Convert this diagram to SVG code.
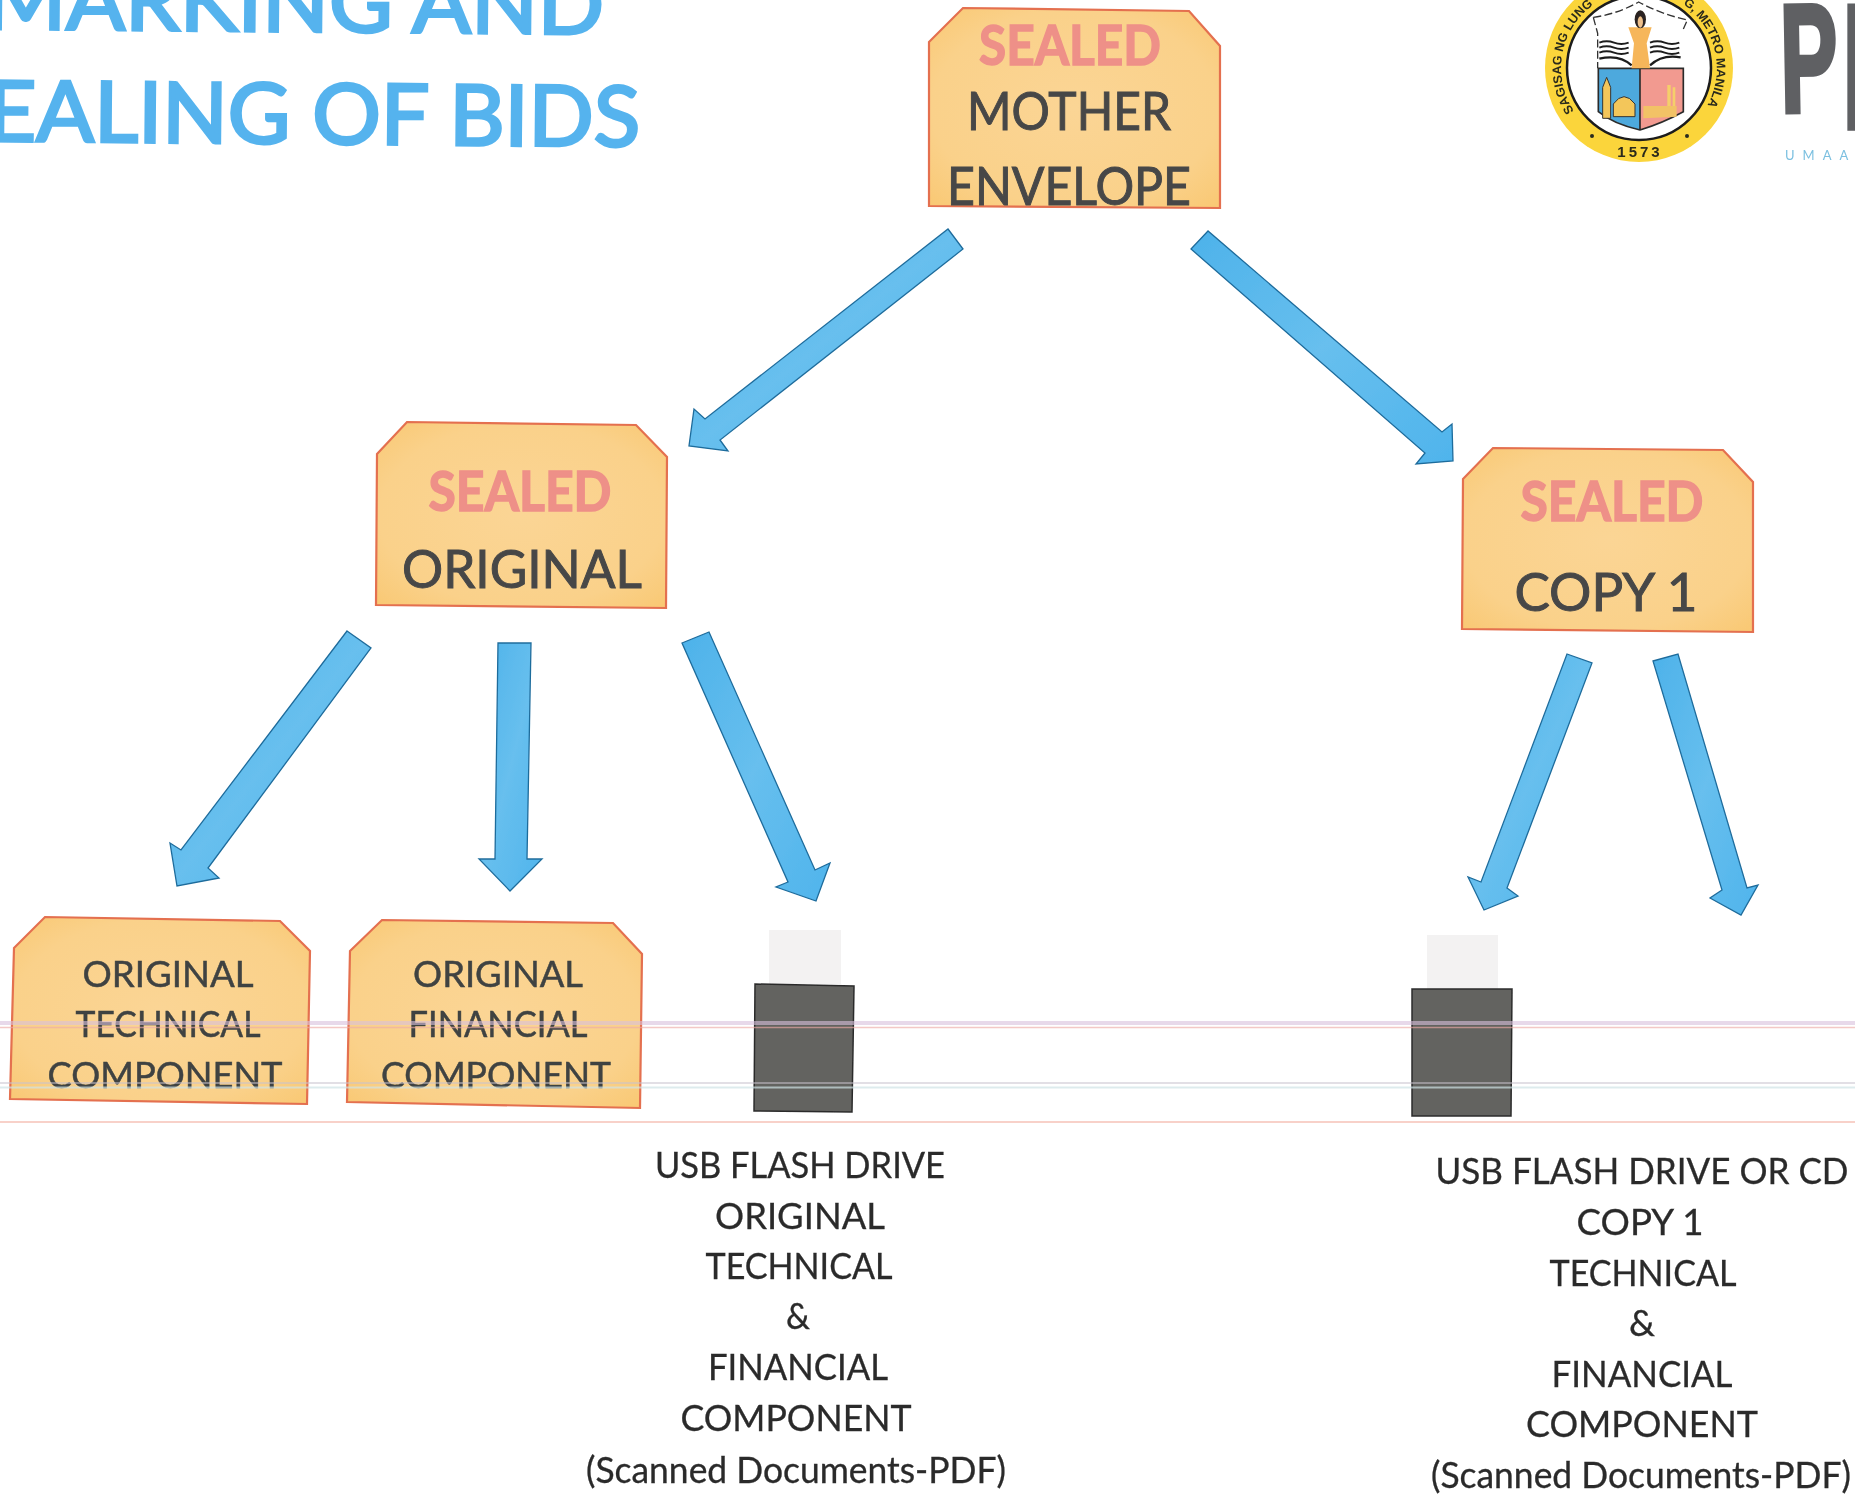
<svg xmlns="http://www.w3.org/2000/svg" width="1855" height="1494" viewBox="0 0 1855 1494">
<defs>
<radialGradient id="env" cx="50%" cy="50%" r="70%"><stop offset="0" stop-color="#fbd595"/><stop offset="0.7" stop-color="#fad18a"/><stop offset="1" stop-color="#f9c873"/></radialGradient>
<linearGradient id="arw" x1="0" y1="0" x2="1" y2="1"><stop offset="0" stop-color="#4db2ea"/><stop offset="0.5" stop-color="#67bfee"/><stop offset="1" stop-color="#4fb4ec"/></linearGradient>
<path id="sealL" d="M1574,111 A78,78 0 0 1 1596,3"/>
<path id="sealR" d="M1683,4 A78,78 0 0 1 1704,111"/>
<filter id="soft" x="0" y="0" width="100%" height="100%" filterUnits="userSpaceOnUse"><feGaussianBlur stdDeviation="0.6"/></filter>
</defs>
<style>
text{font-family:"Lato","Liberation Sans",sans-serif;text-anchor:middle}
.title{fill:#55b3ee;stroke:#55b3ee;stroke-width:3;font-size:84px;font-weight:400;text-anchor:start}
.env{fill:url(#env);stroke:#e4704f;stroke-width:2.2}
.arr{fill:url(#arw);stroke:#1f6c9c;stroke-width:1.3;stroke-linejoin:miter}
.s{fill:#ee9088;stroke:#ee9088;stroke-width:1.5;font-size:56px;font-weight:700}
.b{fill:#474747;font-size:53px;font-weight:400;stroke:#474747;stroke-width:1}
.m{fill:#3f4342;font-size:37px;stroke:#3f4342;stroke-width:.5}
.t{fill:#2b2b2b;font-size:36px;font-weight:400;stroke:#2b2b2b;stroke-width:.3}
.usb{fill:#636360;stroke:#2c2c2c;stroke-width:1.5}
.cap{fill:#f3f2f2}
.seal{fill:#2a2a1c;font-size:12.500px;font-weight:700;font-family:"Liberation Sans",sans-serif}
.mark{fill:#5f6064;stroke:#5f6064;stroke-width:5;font-size:154px;font-weight:700;text-anchor:start;font-family:"Liberation Sans",sans-serif}
</style>
<rect width="1855" height="1494" fill="#fff"/>
<g id="page" filter="url(#soft)">

<g id="title">
<text class="title" x="-15" y="29" textLength="619" lengthAdjust="spacingAndGlyphs" transform="rotate(0.5 0 29)">MARKING AND</text>
<text class="title" x="-60" y="141" textLength="700" lengthAdjust="spacingAndGlyphs" transform="rotate(0.5 0 141)">SEALING OF BIDS</text>
</g>

<g id="logo-seal">
<circle cx="1639" cy="68" r="94" fill="#fbd53b"/>
<circle cx="1639" cy="68" r="72" fill="#fff" stroke="#1c1c1c" stroke-width="2.5"/>
<text class="seal" style="text-anchor:start"><textPath href="#sealL">SAGISAG NG LUNG</textPath></text>
<text class="seal" style="text-anchor:start"><textPath href="#sealR">G, METRO MANILA</textPath></text>
<text class="seal" x="1640" y="157" letter-spacing="3" style="font-size:15px">1573</text>
<circle cx="1592" cy="136" r="2" fill="#2a2a1c"/><circle cx="1687" cy="136" r="2" fill="#2a2a1c"/>
<g transform="translate(1530 0) scale(0.3333)">
<path d="M190,52 Q262,42 326,6 Q392,42 472,60 L458,92" fill="none" stroke="#333" stroke-width="4" stroke-dasharray="24 10"/>
<path d="M190,52 L203,100 V205" fill="none" stroke="#333" stroke-width="4" stroke-dasharray="24 10"/>
<path d="M205,205H330V390Q250,372 205,335Z" fill="#4ea9dd"/>
<path d="M330,205H460V335Q400,368 330,390Z" fill="#f29a90"/>
<path d="M205,205V335Q250,372 330,390Q400,368 460,335V205H205ZM330,205V390" fill="none" stroke="#2c2c2c" stroke-width="5"/>
<path d="M208,128q22,-8 44,0t44,0M208,143q22,-8 44,0t44,0M208,158q22,-8 44,0t44,0M360,128q22,-8 44,0t44,0M360,143q22,-8 44,0t44,0M360,158q22,-8 44,0t44,0" fill="none" stroke="#1f1f1f" stroke-width="6"/>
<path d="M208,176Q268,162 305,196M360,196Q396,162 452,172" fill="none" stroke="#1f1f1f" stroke-width="7"/>
<path d="M295,82H365L350,130L360,205H305L312,130Z" fill="#f6b65a"/>
<ellipse cx="331" cy="58" rx="17" ry="27" fill="#2b2420"/>
<ellipse cx="331" cy="66" rx="8" ry="17" fill="#eec08c"/>
<path d="M218,355V262L230,232L242,262V355Z" fill="#f3c65a" stroke="#333" stroke-width="3"/>
<path d="M250,350V312Q282,268 315,312V350Z" fill="#f3c65a" stroke="#333" stroke-width="3"/>
<path d="M340,355V318H440V350Z" fill="#f2c266"/>
<path d="M412,318V255H422V318ZM428,318V262H436V318Z" fill="#f5cf6a"/>
</g>
</g>

<g id="logo-mark">
<text class="mark" transform="translate(1781 112) rotate(-1) scale(0.56 1)">P</text>
<text class="mark" transform="translate(1843 128) scale(0.56 1.14)">P</text>
<text x="1785" y="160" font-size="13" letter-spacing="8" fill="#7cc0e0" style="text-anchor:start">UMAAG</text>
</g>

<g id="connectors">
<polygon class="arr" points="948,229 963,249 720,440 728,451 689,446 694,409 705,419"/>
<polygon class="arr" points="1208,231 1191,249 1425,453 1416,464 1453,461 1452,424 1442,432"/>
<polygon class="arr" points="347,631 371,648 208,868 219,878 177,886 170,843 181,850"/>
<polygon class="arr" points="498,643 531,643 527,859 542,859 510,891 479,859 495,859"/>
<polygon class="arr" points="682,643 709,632 815,870 830,863 816,901 776,887 788,882"/>
<polygon class="arr" points="1567,654 1592,663 1507,888 1518,896 1484,910 1468,877 1481,882"/>
<polygon class="arr" points="1653,661 1678,654 1747,888 1758,885 1741,915 1710,898 1722,890"/>
</g>

<g id="mother-envelope">
<polygon class="env" points="929,42 963,8 1189,11 1220,46 1220,208 929,206"/>
<text class="s" x="1070" y="65" textLength="182" lengthAdjust="spacingAndGlyphs">SEALED</text>
<text class="b" x="1069" y="130" textLength="204" lengthAdjust="spacingAndGlyphs">MOTHER</text>
<text class="b" x="1069" y="205" textLength="244" lengthAdjust="spacingAndGlyphs">ENVELOPE</text>
</g>
<g id="original">
<polygon class="env" points="377,454 407,422 636,425 667,457 666,608 376,605"/>
<text class="s" x="520" y="511" textLength="183" lengthAdjust="spacingAndGlyphs">SEALED</text>
<text class="b" x="522" y="588" textLength="240" lengthAdjust="spacingAndGlyphs">ORIGINAL</text>
</g>
<g id="copy-1">
<polygon class="env" points="1463,479 1493,448 1723,450 1753,482 1753,632 1462,629"/>
<text class="s" x="1612" y="521" textLength="183" lengthAdjust="spacingAndGlyphs">SEALED</text>
<text class="b" x="1606" y="611" textLength="183" lengthAdjust="spacingAndGlyphs">COPY 1</text>
</g>
<g id="original-technical">
<polygon class="env" points="14,948 45,917 280,921 310,951 307,1104 10,1099"/>
<text class="m" x="168" y="987" textLength="171" lengthAdjust="spacingAndGlyphs">ORIGINAL</text>
<text class="m" x="168" y="1037" textLength="185" lengthAdjust="spacingAndGlyphs">TECHNICAL</text>
<text class="m" x="165" y="1088" textLength="235" lengthAdjust="spacingAndGlyphs">COMPONENT</text>
</g>
<g id="original-financial">
<polygon class="env" points="350,951 382,920 613,923 642,954 640,1108 347,1102"/>
<text class="m" x="498" y="987" textLength="170" lengthAdjust="spacingAndGlyphs">ORIGINAL</text>
<text class="m" x="498" y="1037" textLength="179" lengthAdjust="spacingAndGlyphs">FINANCIAL</text>
<text class="m" x="496" y="1088" textLength="230" lengthAdjust="spacingAndGlyphs">COMPONENT</text>
</g>
<g id="usb-original">
<rect class="cap" x="769" y="930" width="72" height="54"/>
<polygon class="usb" points="755,984 854,986 852,1112 754,1111"/>
<text class="t" x="800" y="1178" textLength="290" lengthAdjust="spacingAndGlyphs">USB FLASH DRIVE</text>
<text class="t" x="800" y="1229" textLength="170" lengthAdjust="spacingAndGlyphs">ORIGINAL</text>
<text class="t" x="799" y="1279" textLength="187" lengthAdjust="spacingAndGlyphs">TECHNICAL</text>
<text class="t" x="798" y="1329" textLength="24" lengthAdjust="spacingAndGlyphs">&amp;</text>
<text class="t" x="798" y="1380" textLength="180" lengthAdjust="spacingAndGlyphs">FINANCIAL</text>
<text class="t" x="796" y="1431" textLength="231" lengthAdjust="spacingAndGlyphs">COMPONENT</text>
<text class="t" x="796" y="1483" textLength="420" lengthAdjust="spacingAndGlyphs">(Scanned Documents-PDF)</text>
</g>
<g id="usb-copy-1">
<rect class="cap" x="1427" y="935" width="71" height="54"/>
<polygon class="usb" points="1412,989 1512,989 1511,1116 1412,1116"/>
<text class="t" x="1642" y="1184" textLength="413" lengthAdjust="spacingAndGlyphs">USB FLASH DRIVE OR CD</text>
<text class="t" x="1640" y="1235" textLength="127" lengthAdjust="spacingAndGlyphs">COPY 1</text>
<text class="t" x="1643" y="1286" textLength="187" lengthAdjust="spacingAndGlyphs">TECHNICAL</text>
<text class="t" x="1642" y="1336" textLength="26" lengthAdjust="spacingAndGlyphs">&amp;</text>
<text class="t" x="1642" y="1387" textLength="181" lengthAdjust="spacingAndGlyphs">FINANCIAL</text>
<text class="t" x="1642" y="1437" textLength="232" lengthAdjust="spacingAndGlyphs">COMPONENT</text>
<text class="t" x="1641" y="1488" textLength="420" lengthAdjust="spacingAndGlyphs">(Scanned Documents-PDF)</text>
</g>

<g id="scan-streaks" fill="none">
<path d="M0,1023H1855" stroke="#d9bfdc" stroke-width="4" stroke-opacity=".6"/>
<path d="M0,1027.500H1855" stroke="#eeaaa8" stroke-width="1.500" stroke-opacity=".65"/>
<path d="M0,1083H1855" stroke="#c9c3cd" stroke-width="1.500" stroke-opacity=".7"/>
<path d="M0,1087.500H1855" stroke="#cfe3e6" stroke-width="2" stroke-opacity=".7"/>
<path d="M0,1122H1855" stroke="#f7c9bf" stroke-width="2" stroke-opacity=".85"/>
</g>
</g>
</svg>
